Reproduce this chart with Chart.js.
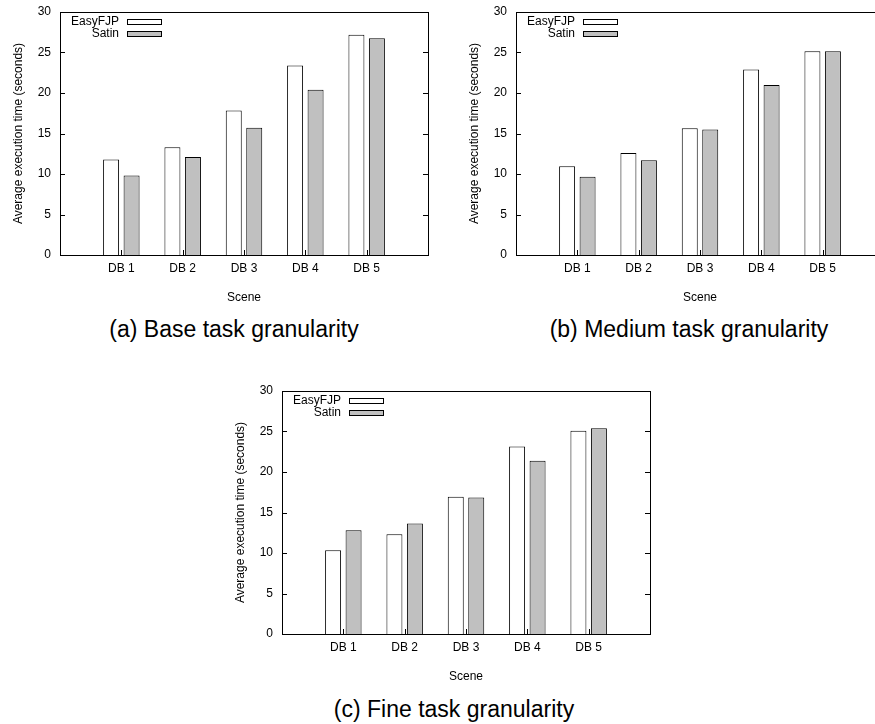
<!DOCTYPE html>
<html lang="en">
<head>
  <meta charset="UTF-8">
  <title>Average execution time per scene</title>
  <script src="https://cdn.jsdelivr.net/npm/chart.js"></script>
  <style>
    html, body { margin: 0; padding: 0; background: #fff; overflow: hidden; }
    body { width: 875px; height: 724px; position: relative; font-family: 'Liberation Sans', Arial, sans-serif; }
    canvas { position: absolute; }
    .cap { position: absolute; font-size: 23px; line-height: 23px; color: #000; white-space: nowrap; transform: translateX(-50%); }
  </style>
</head>
<body>
  <canvas id="chartBase" width="440" height="310" style="left:0;top:0"></canvas>
  <canvas id="chartMedium" width="440" height="310" style="left:456px;top:0"></canvas>
  <canvas id="chartFine" width="440" height="310" style="left:222px;top:379px"></canvas>
  <div class="cap" style="left:234px;top:318px">(a) Base task granularity</div>
  <div class="cap" style="left:689px;top:318px">(b) Medium task granularity</div>
  <div class="cap" style="left:454px;top:698px">(c) Fine task granularity</div>

  <script>
    const scenes = ['DB 1', 'DB 2', 'DB 3', 'DB 4', 'DB 5'];
    const seriesNames = ['EasyFJP', 'Satin'];
    const yTicks = [0, 5, 10, 15, 20, 25, 30];

    const easyBase = [11.8, 13.3, 17.85, 23.4, 27.2];
    const satinBase = [9.8, 12.1, 15.7, 20.4, 26.75];
    const easyMedium = [10.95, 12.6, 15.65, 22.9, 25.15];
    const satinMedium = [9.65, 11.7, 15.5, 21.0, 25.15];
    const easyFine = [10.35, 12.3, 16.95, 23.15, 25.1];
    const satinFine = [12.8, 13.65, 16.85, 21.4, 25.4];

    Chart.defaults.font.family = "'Liberation Sans', Arial, sans-serif";
    Chart.defaults.font.size = 12;
    Chart.defaults.color = '#000';

    // gnuplot look: frame, inward ticks, text-then-box legend
    const gnuplotFrame = {
      id: 'gnuplotFrame',
      beforeDatasetsDraw(chart) {
        const { ctx, chartArea: a, scales } = chart;
        ctx.save();
        ctx.strokeStyle = '#000';
        ctx.lineWidth = 1;
        ctx.beginPath();
        scales.y.ticks.forEach(t => {
          if (t.value <= 0 || t.value >= 30) return;
          const y = Math.round(scales.y.getPixelForValue(t.value)) + 0.5;
          ctx.moveTo(a.left, y); ctx.lineTo(a.left + 5, y);
          ctx.moveTo(a.right, y); ctx.lineTo(a.right - 5, y);
        });
        for (let i = 1; i <= scenes.length; i++) {
          const x = Math.round(scales.x.getPixelForValue(i)) + 0.5;
          ctx.moveTo(x, a.bottom); ctx.lineTo(x, a.bottom - 5);
        }
        ctx.stroke();
        ctx.restore();
      },
      afterDatasetsDraw(chart) {
        const { ctx, chartArea: a } = chart;
        ctx.save();
        ctx.strokeStyle = '#000';
        ctx.lineWidth = 1;
        ctx.strokeRect(Math.round(a.left) + 0.5, Math.round(a.top) + 0.5,
          Math.round(a.right - a.left), Math.round(a.bottom - a.top));
        ctx.font = "12px 'Liberation Sans', Arial, sans-serif";
        ctx.textAlign = 'right';
        ctx.textBaseline = 'middle';
        chart.data.datasets.forEach((ds, i) => {
          const y = a.top + 10 + i * 12;
          ctx.fillStyle = '#000';
          ctx.fillText(ds.label, a.left + 59, y);
          ctx.fillStyle = ds.backgroundColor;
          ctx.fillRect(a.left + 67.5, y - 2.5, 34, 5);
          ctx.strokeRect(a.left + 67.5, y - 2.5, 34, 5);
        });
        ctx.restore();
      }
    };

    function makeChart(id, easy, satin) {
      const ctx = document.getElementById(id).getContext('2d');
      return new Chart(ctx, {
        type: 'bar',
        data: {
          labels: ['', ...scenes, ''],
          datasets: [
            { label: seriesNames[0], data: [null, ...easy, null], backgroundColor: '#ffffff' },
            { label: seriesNames[1], data: [null, ...satin, null], backgroundColor: '#c0c0c0' }
          ]
        },
        options: {
          responsive: false,
          animation: false,
          devicePixelRatio: 1,
          layout: { padding: { top: 12, right: 12, left: 0, bottom: 0 } },
          datasets: {
            bar: {
              borderColor: '#000',
              borderWidth: 1,
              borderSkipped: 'start',
              categoryPercentage: 0.668,
              barPercentage: 0.78
            }
          },
          plugins: { legend: { display: false }, tooltip: { enabled: false } },
          scales: {
            x: {
              offset: false,
              grid: { display: false, drawTicks: false },
              border: { display: false },
              ticks: { padding: 6, maxRotation: 0, autoSkip: false },
              title: { display: true, text: 'Scene', padding: { top: 0, bottom: 5 } },
              afterFit: s => { s.height = 55; s.paddingLeft = 0; s.paddingRight = 0; }
            },
            y: {
              min: 0,
              max: 30,
              afterBuildTicks: s => { s.ticks = yTicks.map(v => ({ value: v })); },
              grid: { display: false, drawTicks: false },
              border: { display: false },
              ticks: { padding: 9 },
              title: { display: true, text: 'Average execution time (seconds)', padding: { top: 11, bottom: 0 } },
              afterFit: s => { s.width = 60; s.paddingTop = 0; s.paddingBottom = 0; }
            }
          }
        },
        plugins: [gnuplotFrame]
      });
    }

    makeChart('chartBase', easyBase, satinBase);
    makeChart('chartMedium', easyMedium, satinMedium);
    makeChart('chartFine', easyFine, satinFine);
  </script>
</body>
</html>
